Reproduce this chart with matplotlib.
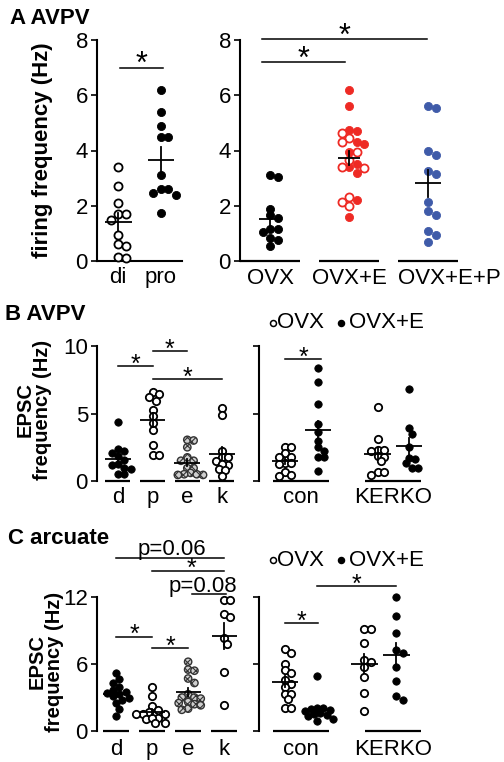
import matplotlib
matplotlib.use('Agg')
import numpy as np
import matplotlib.pyplot as plt
from matplotlib.lines import Line2D

plt.rcParams['font.family'] = ['Liberation Sans', 'DejaVu Sans']
plt.rcParams['hatch.linewidth'] = 0.8

W, H = 504, 762

# ---------------- data (Hz) ----------------
# A: AVPV firing frequency
a_cycle_labels = ['di', 'pro']
a_di = [3.4, 2.7, 2.1, 1.7, 1.7, 1.5, 0.95, 0.6, 0.55, 0.15, 0.1]
a_pro = [6.2, 5.4, 4.9, 4.5, 4.5, 3.1, 2.6, 2.6, 2.45, 2.4, 1.75]

a_treat_labels = ['OVX', 'OVX+E', 'OVX+E+P']
a_ovx = [3.1, 3.05, 1.9, 1.65, 1.55, 1.15, 1.15, 1.05, 0.85, 0.75, 0.55]
a_ovxe_filled = [6.2, 5.6, 4.75, 4.7, 4.3, 4.25, 3.95, 3.5, 3.4, 3.2, 2.2, 1.6]
a_ovxe_open = [4.65, 4.45, 4.3, 3.95, 3.65, 3.4, 3.35, 2.3, 2.15, 2.0]
a_ovxep = [5.6, 5.55, 4.0, 3.85, 3.25, 3.15, 2.15, 1.8, 1.65, 1.1, 0.95, 0.7]

# B: AVPV EPSC frequency
cycle_labels = ['d', 'p', 'e', 'k']
b_cycle = [
    [4.4, 2.35, 2.25, 2.1, 1.85, 1.55, 1.25, 1.2, 0.95, 0.9, 0.55, 0.5],
    [6.6, 6.45, 6.25, 5.95, 5.25, 4.8, 4.3, 3.8, 2.7, 1.95, 1.9],
    [3.05, 3.0, 2.5, 1.75, 1.5, 1.5, 0.95, 0.95, 0.6, 0.5, 0.45, 0.45, 0.5],
    [5.4, 4.9, 2.25, 1.8, 1.75, 1.5, 1.2, 1.25, 0.9, 0.85, 0.35],
]
geno_labels = ['con', 'KERKO']
b_con_ovx = [2.5, 2.5, 2.05, 1.75, 1.75, 1.3, 1.25, 1.3, 0.7, 0.4, 0.45]
b_con_e = [8.35, 7.3, 5.7, 4.25, 3.65, 2.95, 2.5, 2.25, 1.75, 1.75, 0.75]
b_ko_ovx = [5.5, 3.1, 2.3, 2.3, 2.25, 1.85, 1.8, 1.45, 0.7, 0.45, 0.7]
b_ko_e = [6.8, 3.9, 3.5, 2.5, 1.7, 1.6, 1.3, 1.0, 1.0]

# C: arcuate EPSC frequency
c_cycle = [
    [5.2, 4.7, 4.3, 3.9, 3.7, 3.5, 3.4, 3.3, 3.1, 3.0, 2.8, 2.5, 2.0, 1.3],
    [3.9, 3.1, 2.2, 1.9, 1.7, 1.55, 1.5, 1.5, 1.15, 1.1, 1.2, 0.75, 0.7],
    [6.2, 5.5, 5.4, 4.7, 4.3, 3.3, 3.0, 3.0, 2.9, 2.6, 2.5, 2.4, 2.3, 2.0, 1.9],
    [11.7, 11.7, 10.5, 10.2, 8.3, 7.8, 5.3, 2.3],
]
c_con_ovx = [7.3, 7.0, 6.0, 5.45, 5.15, 4.6, 4.2, 3.95, 3.3, 3.3, 2.85, 2.1, 2.1]
c_con_e = [4.9, 2.1, 2.1, 2.0, 1.9, 1.8, 1.6, 1.5, 1.4, 1.3, 1.1, 0.9]
c_ko_ovx = [9.1, 9.1, 7.85, 6.35, 6.2, 5.7, 4.8, 3.4, 1.75]
c_ko_e = [12.0, 10.3, 8.8, 7.25, 6.95, 5.75, 4.5, 3.1, 2.8]

RED = '#ee2a24'
BLUE = '#3f5ba9'
FS = 16

fig = plt.figure(figsize=(W / 100, H / 100), dpi=100)


def axes_px(l, t, r, b):
    return fig.add_axes([l / W, 1 - b / H, (r - l) / W, (b - t) / H])


def style(ax, yticks, labels=True, bottom=False):
    for s in ['top', 'right']:
        ax.spines[s].set_visible(False)
    ax.spines['bottom'].set_visible(bottom)
    ax.spines['bottom'].set_linewidth(1.5)
    ax.spines['left'].set_linewidth(1.5)
    ax.set_yticks(yticks)
    if not labels:
        ax.set_yticklabels([])
    ax.tick_params(axis='y', length=4.5, width=1.2, labelsize=FS, pad=2)
    ax.tick_params(axis='x', length=0, labelsize=FS, pad=4)


def swarm_x(ax, x0, vals, diam):
    vals = np.asarray(vals, float)
    pix = ax.transData.transform(np.column_stack([np.full(len(vals), x0), vals]))
    xs = pix[:, 0].copy()
    placed = []
    for i in np.argsort(-vals, kind='stable'):
        cx, cy = pix[i]
        off = 0.0
        for k in range(80):
            off = (k + 1) // 2 * diam * 0.5 * (1 if k % 2 else -1)
            if all(np.hypot(cx + off - px, cy - py) >= diam * 0.9 for px, py in placed):
                break
        xs[i] = cx + off
        placed.append((cx + off, cy))
    return ax.transData.inverted().transform(np.column_stack([xs, pix[:, 1]]))[:, 0]


def dots(ax, x, y, kind, color='black', s=28):
    kw = dict(s=s, zorder=3, clip_on=False)
    if kind == 'filled':
        ax.scatter(x, y, facecolor=color, edgecolor=color, linewidth=0.6, **kw)
    elif kind == 'open':
        ax.scatter(x, y, facecolor='white', edgecolor=color, linewidth=1.3, **kw)
    else:
        ax.scatter(x, y, facecolor='#cfcfcf', edgecolor='#333333', linewidth=1.0, hatch='xxxx', **kw)


def mean_sem(ax, x0, vals, hw):
    v = np.asarray(vals, float)
    m, se = v.mean(), v.std(ddof=1) / np.sqrt(len(v))
    ax.plot([x0 - hw, x0 + hw], [m, m], color='black', lw=1.3, zorder=4, solid_capstyle='butt')
    ax.plot([x0, x0], [m - se, m + se], color='black', lw=1.3, zorder=4)


def group(ax, x0, vals, kind, hw, color='black', diam=6.3, s=28):
    xs = swarm_x(ax, x0, vals, diam)
    dots(ax, xs, vals, kind, color, s)
    mean_sem(ax, x0, vals, hw)


def base(ax, x0, hw):
    ax.plot([x0 - hw, x0 + hw], [0, 0], color='black', lw=1.6, clip_on=False, solid_capstyle='butt')


def sig(ax, x1, x2, y, label='*', fs=18, tx=None, dy=-4):
    ax.plot([x1, x2], [y, y], color='black', lw=1.1, clip_on=False)
    ax.annotate(label, ((x1 + x2) / 2 if tx is None else tx, y), xytext=(0, dy),
                textcoords='offset points', ha='center', va='baseline',
                fontsize=fs, annotation_clip=False)


def legend(yc):
    for xc, face in [(272.5, 'white'), (341, 'black')]:
        fig.add_artist(Line2D([xc / W], [1 - yc / H], marker='o', markersize=4.3,
                              markerfacecolor=face, markeredgecolor='black',
                              markeredgewidth=1.1, transform=fig.transFigure))
    fig.text(277 / W, 1 - yc / H, 'OVX', fontsize=FS, ha='left', va='center')
    fig.text(349 / W, 1 - yc / H, 'OVX+E', fontsize=FS, ha='left', va='center')


def ylabel(txt, xc, yc, fs=FS):
    fig.text(xc / W, 1 - yc / H, txt, rotation=90, fontsize=fs, fontweight='bold',
             ha='center', va='center', multialignment='center', linespacing=0.9)


# ---------------- panel A ----------------
fig.text(10 / W, 1 - 18 / H, 'A AVPV', fontsize=FS, fontweight='bold', ha='left', va='center')
ylabel('firing frequency (Hz)', 43, 150)

ax = axes_px(97, 40, 182, 261)
ax.set_xlim(-0.5, 1.5)
ax.set_ylim(0, 8)
style(ax, [0, 2, 4, 6, 8], bottom=True)
group(ax, 0, a_di, 'open', 0.32, diam=7.5, s=34)
group(ax, 1, a_pro, 'filled', 0.3, diam=7.5, s=34)
ax.set_xticks([0, 1])
ax.set_xticklabels(a_cycle_labels)
sig(ax, 0.05, 1.05, 7.0, fs=22)

ax = axes_px(240, 40, 470, 261)
ax.set_xlim(-0.38, 2.53)
ax.set_ylim(0, 8)
style(ax, [0, 2, 4, 6, 8])
group(ax, 0, a_ovx, 'filled', 0.14, diam=7.5, s=34)
e_all = a_ovxe_filled + a_ovxe_open
xs = swarm_x(ax, 1, e_all, 7.5)
nf = len(a_ovxe_filled)
dots(ax, xs[:nf], a_ovxe_filled, 'filled', RED, 34)
dots(ax, xs[nf:], a_ovxe_open, 'open', RED, 34)
mean_sem(ax, 1, e_all, 0.14)
group(ax, 2, a_ovxep, 'filled', 0.16, color=BLUE, diam=7.5, s=34)
for i in range(3):
    base(ax, i, 0.38)
ax.set_xticks([])
for i, lab in enumerate(a_treat_labels):
    if i < 2:
        ax.text(i, -0.25, lab, fontsize=FS, ha='center', va='top')
    else:
        ax.text(i - 0.38, -0.25, lab, fontsize=FS, ha='left', va='top')
sig(ax, -0.1, 0.95, 7.2, fs=22)
sig(ax, -0.1, 1.98, 8.02, fs=22)

# ---------------- panel B ----------------
fig.text(5 / W, 1 - 315 / H, 'B AVPV', fontsize=FS, fontweight='bold', ha='left', va='center')
ylabel('EPSC\nfrequency (Hz)', 34, 410, fs=14.5)

ax = axes_px(97, 346, 240, 481)
ax.set_xlim(-0.605, 3.52)
ax.set_ylim(0, 10)
style(ax, [0, 5, 10])
kinds = ['filled', 'open', 'hatch', 'open']
for i, vals in enumerate(b_cycle):
    group(ax, i, vals, kinds[i], 0.37)
    base(ax, i, 0.36)
ax.set_xticks(range(4))
ax.set_xticklabels(cycle_labels)
sig(ax, 0, 1, 8.5)
sig(ax, 1, 2, 9.6)
sig(ax, 1, 3, 7.55)

ax = axes_px(259, 346, 430, 481)
ax.set_xlim(-0.79, 4.39)
ax.set_ylim(0, 10)
style(ax, [0, 5, 10], labels=False)
bpos = [0, 1, 2.8, 3.75]
for x0, vals, kind in zip(bpos, [b_con_ovx, b_con_e, b_ko_ovx, b_ko_e],
                          ['open', 'filled', 'open', 'filled']):
    group(ax, x0, vals, kind, 0.4)
for xc in [0.48, 3.27]:
    base(ax, xc, 0.85)
ax.set_xticks([0.48, 3.27])
ax.set_xticklabels(geno_labels)
sig(ax, 0, 1.1, 9.05)
legend(323)

# ---------------- panel C ----------------
fig.text(8 / W, 1 - 539 / H, 'C arcuate', fontsize=FS, fontweight='bold', ha='left', va='center')
ylabel('EPSC\nfrequency (Hz)', 46, 662, fs=14.5)

ax = axes_px(97, 597, 240, 731)
ax.set_xlim(-0.53, 3.44)
ax.set_ylim(0, 12)
style(ax, [0, 6, 12])
for i, vals in enumerate(c_cycle):
    group(ax, i, vals, kinds[i], 0.35)
    base(ax, i, 0.36)
ax.set_xticks(range(4))
ax.set_xticklabels(cycle_labels)
ax.tick_params(axis='x', pad=6)
sig(ax, 0, 1, 8.45)
sig(ax, 1, 2, 7.4)
sig(ax, 1, 3, 14.3, tx=2.1, dy=-3)
ax.plot([0, 3], [15.5, 15.5], color='black', lw=1.1, clip_on=False)
ax.text(1.55, 15.75, 'p=0.06', fontsize=FS, ha='center', va='baseline')
ax.plot([2.1, 3.05], [12.26, 12.26], color='black', lw=1.1, clip_on=False)
ax.text(2.4, 12.45, 'p=0.08', fontsize=FS, ha='center', va='baseline')

ax = axes_px(259, 597, 430, 731)
ax.set_xlim(-0.79, 4.39)
ax.set_ylim(0, 12)
style(ax, [0, 6, 12], labels=False)
cpos = [0, 0.97, 2.4, 3.37]
for x0, vals, kind in zip(cpos, [c_con_ovx, c_con_e, c_ko_ovx, c_ko_e],
                          ['open', 'filled', 'open', 'filled']):
    group(ax, x0, vals, kind, 0.4)
for xc in [0.48, 3.27]:
    base(ax, xc, 0.85)
ax.set_xticks([0.48, 3.27])
ax.set_xticklabels(geno_labels)
ax.tick_params(axis='x', pad=6)
sig(ax, 0, 1, 9.67)
sig(ax, 0.97, 3.37, 13.0)
legend(560)

fig.savefig('out.png', dpi=100)
